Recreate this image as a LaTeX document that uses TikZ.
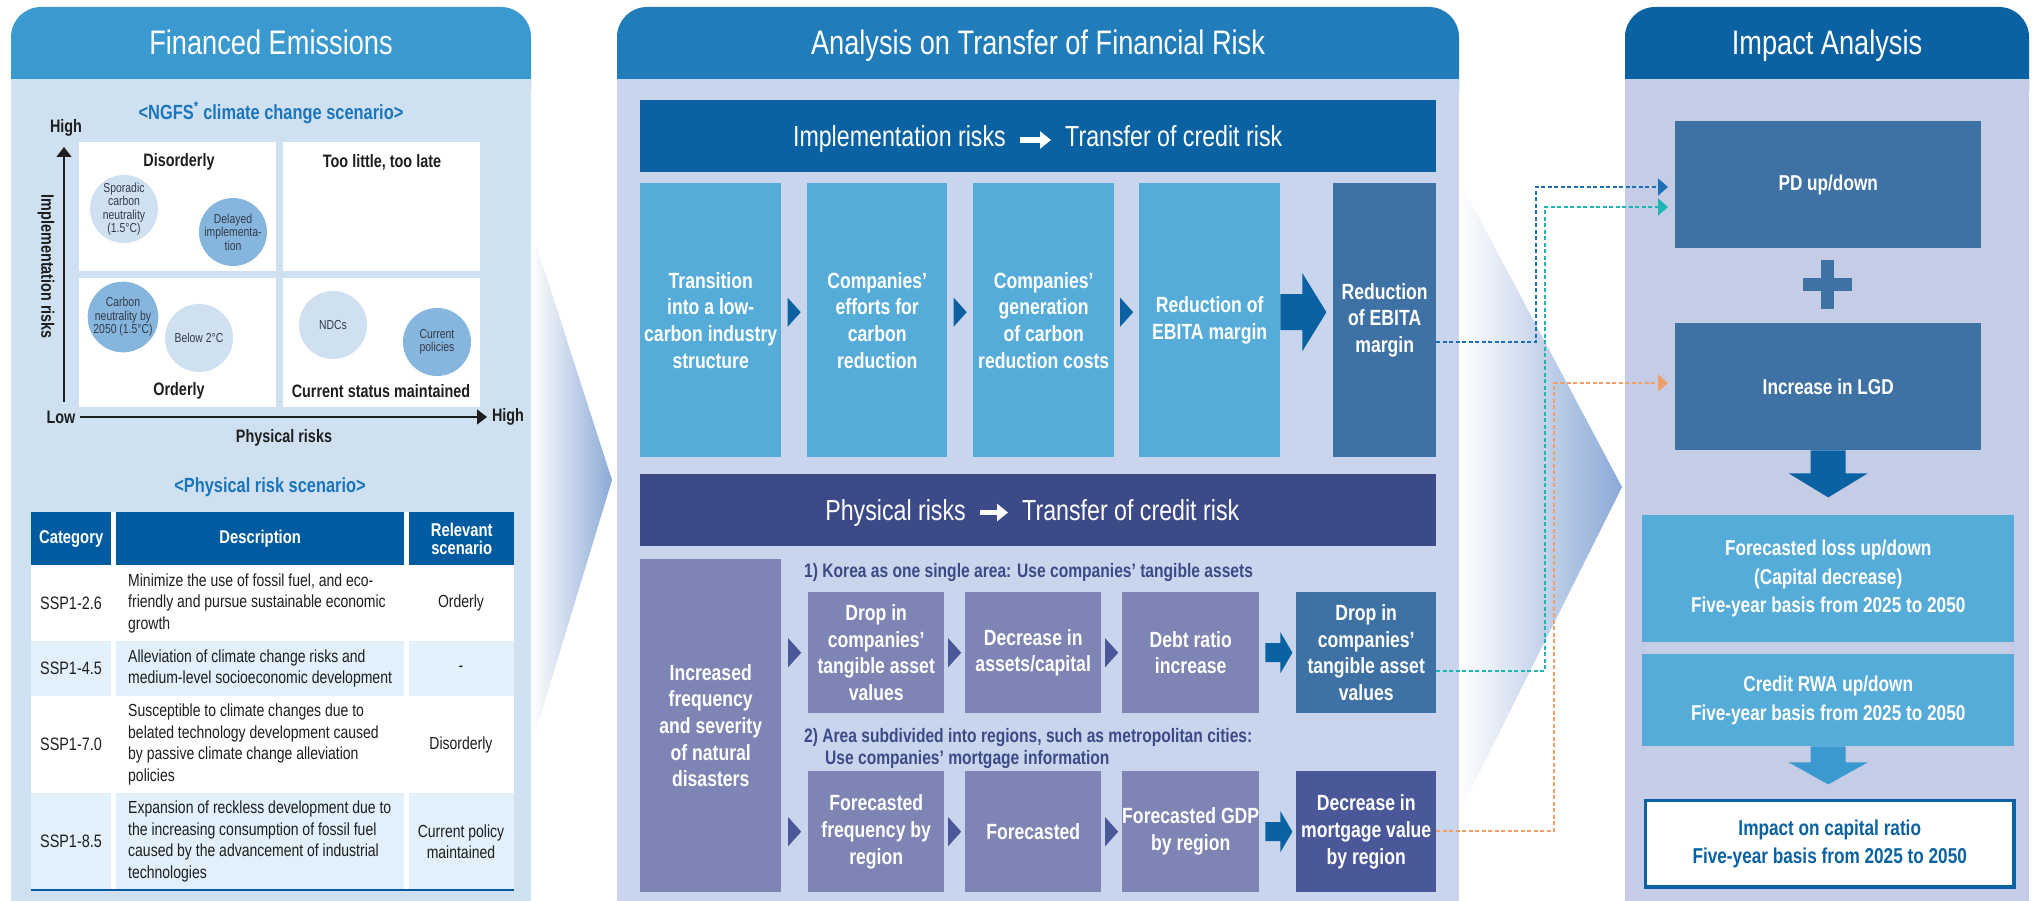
\documentclass[tikz,border=0pt]{standalone}
\usepackage{fontspec}
\setmainfont{Liberation Sans}[FakeStretch=0.8]
\usetikzlibrary{arrows.meta,calc}
\definecolor{lhead}{HTML}{3A9AD0}
\definecolor{lbody}{HTML}{CFE1F1}
\definecolor{mhead}{HTML}{217CBA}
\definecolor{mbody}{HTML}{C8D5EC}
\definecolor{rhead}{HTML}{0B62A3}
\definecolor{rbody}{HTML}{C5CCE6}
\definecolor{dblue}{HTML}{0B62A3}
\definecolor{lblue}{HTML}{55ACD9}
\definecolor{steel}{HTML}{3F72A4}
\definecolor{navy}{HTML}{3C4A87}
\definecolor{purp}{HTML}{7E84B3}
\definecolor{navytwo}{HTML}{4A5899}
\definecolor{thead}{HTML}{005BA0}
\definecolor{trow}{HTML}{E1F0FA}
\definecolor{ttl}{HTML}{1B75BB}
\definecolor{circl}{HTML}{CFE0F0}
\definecolor{circd}{HTML}{86B6DD}
\definecolor{chevc}{HTML}{8BA9D6}
\definecolor{dashb}{HTML}{1D70B8}
\definecolor{dasht}{HTML}{1FB5B5}
\definecolor{dasho}{HTML}{EFA06A}
\definecolor{ink}{HTML}{1E1E1E}
\definecolor{cink}{HTML}{333A48}
\newcommand\chevmark[2]{\fill[#2] #1 ++(-6.5,-14.5) -- ++(13,14.5) -- ++(-13,14.5) -- cycle;}
\begin{document}
\begin{tikzpicture}[x=1pt,y=-1pt,
  box/.style={anchor=north west, inner sep=0pt, align=center, text=white, font=\bfseries\fontsize{22}{26.7}\selectfont},
  quad/.style={anchor=north west, inner sep=0pt, fill=white, minimum width=197pt, minimum height=129pt},
  qlab/.style={font=\bfseries\fontsize{18}{21}\selectfont, text=ink},
  circ/.style={circle, inner sep=0pt, minimum size=68pt, align=center, text=cink, font=\fontsize{13}{13.5}\selectfont},
  axlab/.style={font=\bfseries\fontsize{18}{21}\selectfont, text=ink},
  ttitle/.style={font=\fontsize{34}{40}\selectfont, text=white, anchor=base},
  subttl/.style={font=\bfseries\fontsize{20.5}{24}\selectfont, text=ttl},
  thd/.style={anchor=north west, inner sep=0pt, fill=thead, text=white, align=center, font=\bfseries\fontsize{18.5}{18}\selectfont, minimum height=53pt},
  tcat/.style={font=\fontsize{18}{21}\selectfont, text=ink},
  tdesc/.style={anchor=west, align=left, inner sep=0pt, font=\fontsize{17.5}{21.5}\selectfont, text=ink},
  trel/.style={align=center, font=\fontsize{17.5}{21.5}\selectfont, text=ink},
  hdrtxt/.style={font=\fontsize{29}{34}\selectfont, text=white, inner sep=0pt},
  harrow/.style={white, line width=5.5pt, -{Triangle[length=11pt,width=17pt]}},
  sublab/.style={anchor=base west, inner sep=0pt, font=\bfseries\fontsize{19.5}{23}\selectfont, text=navy},
  rbox/.style={anchor=north west, inner sep=0pt, align=center, text=white, font=\bfseries\fontsize{21.5}{28.5}\selectfont},
  dashline/.style={line width=1.6pt, dash pattern=on 4pt off 2.5pt, shorten >=7pt, -{Triangle[length=10pt,width=17pt]}},
]
\useasboundingbox (0,0) rectangle (2035,901);
\fill[white] (0,0) rectangle (2035,901);

% gradient chevrons between panels
\shade[left color=white, right color=chevc] (531,229) -- (612,480) -- (531,747) -- cycle;
\shade[left color=white, right color=chevc] (1459,180) -- (1622,487) -- (1459,813) -- cycle;

% panels
\fill[lhead, rounded corners=30pt] (11,7) rectangle (531,120);
\fill[lbody] (11,79) rectangle (531,901);
\fill[mhead, rounded corners=30pt] (617,7) rectangle (1459,120);
\fill[mbody] (617,79) rectangle (1459,901);
\fill[rhead, rounded corners=30pt] (1625,7) rectangle (2029,120);
\fill[rbody] (1625,79) rectangle (2029,901);

\node[ttitle] (ltitle) at (271,55) {Financed Emissions};
\node[ttitle] (mtitle) at (1038,55) {Analysis on Transfer of Financial Risk};
\node[ttitle] (rtitle) at (1827,55) {Impact Analysis};

% ===== left panel: NGFS matrix
\node[subttl] (ngfs) at (271,113) {<NGFS\textsuperscript{*} climate change scenario>};
\node[quad] (q1) at (79,142) {};
\node[quad] (q2) at (283,142) {};
\node[quad] (q3) at (79,278) {};
\node[quad] (q4) at (283,278) {};
\node[qlab] (q1l) at (179,162) {Disorderly};
\node[qlab] (q2l) at (382,162) {Too little, too late};
\node[qlab] (q3l) at (179,391) {Orderly};
\node[qlab] (q4l) at (381,391) {Current status maintained};
\node[circ, fill=circl] (c1) at (124,209) {Sporadic\\carbon\\neutrality\\(1.5°C)};
\node[circ, fill=circd] (c2) at (233,232) {Delayed\\implementa-\\tion};
\node[circ, fill=circd] (c3) at (123,317) {Carbon\\neutrality by\\2050 (1.5°C)};
\node[circ, fill=circl] (c4) at (199,338) {Below 2°C};
\node[circ, fill=circl] (c5) at (333,325) {NDCs};
\node[circ, fill=circd] (c6) at (437,342) {Current\\policies};
\coordinate (ylo) at (64,402);
\coordinate (yhi) at (64,147);
\coordinate (xlo) at (80,417);
\coordinate (xhi) at (487,417);
\draw[ink, line width=1.3pt, -{Triangle[length=10pt,width=15pt]}] (ylo) -- (yhi);
\draw[ink, line width=1.3pt, -{Triangle[length=10pt,width=15pt]}] (xlo) -- (xhi);
\node[axlab] (yhigh) at (66,128) {High};
\node[axlab] (xlow) at (61,417) {Low};
\node[axlab] (xhigh) at (508,417) {High};
\node[axlab, rotate=-90] (ylab) at (46,267) {Implementation risks};
\node[axlab] (xlab) at (284,438) {Physical risks};

% ===== left panel: table
\node[subttl] (phys) at (270,487) {<Physical risk scenario>};
\fill[white] (31,512) rectangle (514,890);
\node[thd, minimum width=80pt] (th1) at (31,512) {Category};
\node[thd, minimum width=288pt] (th2) at (116,512) {Description};
\node[thd, minimum width=105pt] (th3) at (409,512) {Relevant\\scenario};
\fill[trow] (31,641) rectangle (111,696);
\fill[trow] (116,641) rectangle (404,696);
\fill[trow] (409,641) rectangle (514,696);
\fill[trow] (31,793) rectangle (111,889);
\fill[trow] (116,793) rectangle (404,889);
\fill[trow] (409,793) rectangle (514,889);
\draw[thead, line width=2.5pt] (31,890) -- (514,890);
\node[tcat] (cat1) at (71,603) {SSP1-2.6};
\node[tcat] (cat2) at (71,668.5) {SSP1-4.5};
\node[tcat] (cat3) at (71,744.5) {SSP1-7.0};
\node[tcat] (cat4) at (71,841.5) {SSP1-8.5};
\node[tdesc] (d1) at (128,603) {Minimize the use of fossil fuel, and eco-\\friendly and pursue sustainable economic\\growth};
\node[tdesc] (d2) at (128,668.5) {Alleviation of climate change risks and\\medium-level socioeconomic development};
\node[tdesc] (d3) at (128,744.5) {Susceptible to climate changes due to\\belated technology development caused\\by passive climate change alleviation\\policies};
\node[tdesc] (d4) at (128,841.5) {Expansion of reckless development due to\\the increasing consumption of fossil fuel\\caused by the advancement of industrial\\technologies};
\node[trel] (r1) at (461,603) {Orderly};
\node[trel] (r2) at (461,668.5) {-};
\node[trel] (r3) at (461,744.5) {Disorderly};
\node[trel] (r4) at (461,841.5) {Current policy\\maintained};

% ===== middle panel: implementation risks
\node[anchor=north west, inner sep=0pt, fill=dblue, minimum width=796pt, minimum height=72pt] (ihdr) at (640,100) {};
\node[hdrtxt, anchor=base east] (ihl) at (1006,147) {Implementation risks};
\node[hdrtxt, anchor=base west] (ihr) at (1065,147) {Transfer of credit risk};
\draw[harrow] ($(ihl.base east)+(14,-7)$) -- ($(ihr.base west)+(-14,-7)$);

\node[box, fill=lblue, minimum width=141pt, minimum height=274pt] (b1) at (640,183) {Transition\\into a low-\\carbon industry\\structure};
\node[box, fill=lblue, minimum width=140pt, minimum height=274pt] (b2) at (807,183) {Companies’\\efforts for\\carbon\\reduction};
\node[box, fill=lblue, minimum width=141pt, minimum height=274pt] (b3) at (973,183) {Companies’\\generation\\of carbon\\reduction costs};
\node[box, fill=lblue, minimum width=141pt, minimum height=274pt] (b4) at (1139,183) {Reduction of\\EBITA margin};
\node[box, fill=steel, minimum width=103pt, minimum height=274pt] (b5) at (1333,183) {Reduction\\of EBITA\\margin};
\chevmark{($(b1.east)!.5!(b2.west)+(0,-8)$)}{dblue}
\chevmark{($(b2.east)!.5!(b3.west)+(0,-8)$)}{dblue}
\chevmark{($(b3.east)!.5!(b4.west)+(0,-8)$)}{dblue}
\begin{scope}[shift={($(b4.east)+(0,-8)$)}]
\fill[dblue] (0,-18) -- (22,-18) -- (22,-39) -- (46,0) -- (22,39) -- (22,18) -- (0,18) -- cycle;
\end{scope}

% ===== middle panel: physical risks
\node[anchor=north west, inner sep=0pt, fill=navy, minimum width=796pt, minimum height=72pt] (phdr) at (640,474) {};
\node[hdrtxt, anchor=base east] (phl) at (966,520.5) {Physical risks};
\node[hdrtxt, anchor=base west] (phr) at (1022,520.5) {Transfer of credit risk};
\draw[harrow] ($(phl.base east)+(14,-8)$) -- ($(phr.base west)+(-14,-8)$);

\node[box, fill=purp, minimum width=141pt, minimum height=333pt] (p0) at (640,559) {Increased\\frequency\\and severity\\of natural\\disasters};
\node[sublab] (lab1) at (804,577) {1) Korea as one single area: Use companies’ tangible assets};
\node[box, fill=purp, minimum width=136pt, minimum height=121pt] (pa) at (808,592) {Drop in\\companies’\\tangible asset\\values};
\node[box, fill=purp, minimum width=136pt, minimum height=121pt] (pb) at (965,592) {Decrease in\\assets/capital};
\node[box, fill=purp, minimum width=137pt, minimum height=121pt] (pc) at (1122,592) {Debt ratio\\increase};
\node[box, fill=steel, minimum width=140pt, minimum height=121pt] (pd1) at (1296,592) {Drop in\\companies’\\tangible asset\\values};
\node[sublab] (lab2a) at (804,742) {2) Area subdivided into regions, such as metropolitan cities:};
\node[sublab] (lab2b) at (825,764) {Use companies’ mortgage information};
\node[box, fill=purp, minimum width=136pt, minimum height=121pt] (pe) at (808,771) {Forecasted\\frequency by\\region};
\node[box, fill=purp, minimum width=136pt, minimum height=121pt] (pf) at (965,771) {Forecasted};
\node[box, fill=purp, minimum width=137pt, minimum height=121pt] (pg) at (1122,771) {Forecasted GDP\\by region};
\node[box, fill=navytwo, minimum width=140pt, minimum height=121pt] (ph) at (1296,771) {Decrease in\\mortgage value\\by region};
\chevmark{($(p0.east |- pa.west)!.5!(pa.west)$)}{navytwo}
\chevmark{($(pa.east)!.5!(pb.west)$)}{navytwo}
\chevmark{($(pb.east)!.5!(pc.west)$)}{navytwo}
\chevmark{($(p0.east |- pe.west)!.5!(pe.west)$)}{navytwo}
\chevmark{($(pe.east)!.5!(pf.west)$)}{navytwo}
\chevmark{($(pf.east)!.5!(pg.west)$)}{navytwo}
\begin{scope}[shift={(pc.east)}]
\fill[dblue] (6,-9.5) -- (21,-9.5) -- (21,-20.5) -- (33,0) -- (21,20.5) -- (21,9.5) -- (6,9.5) -- cycle;
\end{scope}
\begin{scope}[shift={(pg.east)}]
\fill[dblue] (6,-9.5) -- (21,-9.5) -- (21,-20.5) -- (33,0) -- (21,20.5) -- (21,9.5) -- (6,9.5) -- cycle;
\end{scope}

% ===== right panel
\node[rbox, fill=steel, minimum width=306pt, minimum height=127pt] (pdb) at (1675,121) {PD up/down};
\fill[steel] (1820.5,260) rectangle (1833.5,309);
\fill[steel] (1803,278) rectangle (1852,291);
\node[rbox, fill=steel, minimum width=306pt, minimum height=127pt] (lgd) at (1675,323) {Increase in LGD};
\begin{scope}[shift={(lgd.south)}]
\fill[dblue] (-17.5,0) -- (17.5,0) -- (17.5,23) -- (39.5,23) -- (0,47) -- (-39.5,23) -- (-17.5,23) -- cycle;
\end{scope}
\node[rbox, fill=lblue, minimum width=372pt, minimum height=127pt] (fl) at (1642,515) {Forecasted loss up/down\\(Capital decrease)\\Five-year basis from 2025 to 2050};
\node[rbox, fill=lblue, minimum width=372pt, minimum height=92pt] (rwa) at (1642,654) {Credit RWA up/down\\Five-year basis from 2025 to 2050};
\begin{scope}[shift={(rwa.south)}]
\fill[lhead] (-17.5,0) -- (17.5,0) -- (17.5,16) -- (39.5,16) -- (0,38) -- (-39.5,16) -- (-17.5,16) -- cycle;
\end{scope}
\node[rbox, fill=white, draw=dblue, line width=3.5pt, text=dblue, minimum width=368.5pt, minimum height=86.5pt] (imp) at (1643.75,798.75) {Impact on capital ratio\\Five-year basis from 2025 to 2050};

% ===== dashed connectors
\draw[dashb, dashline] (b5.east |- 0,342) -| (1536,187) -- (pdb.west |- 0,187);
\draw[dasht, dashline] (pd1.east |- 0,671) -| (1545,207) -- (pdb.west |- 0,207);
\draw[dasho, dashline] (ph.east |- 0,831) -| (1554,383) -- (lgd.west |- 0,383);
\end{tikzpicture}
\end{document}
